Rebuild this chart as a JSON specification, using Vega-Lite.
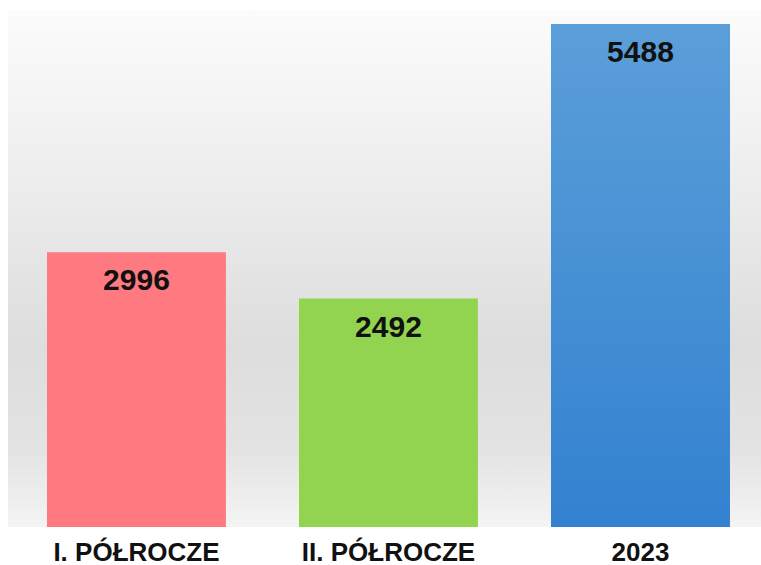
{
  "$schema": "https://vega.github.io/schema/vega-lite/v6.json",
  "width": 753,
  "height": 517,
  "autosize": {"type": "none"},
  "padding": {"top": 10, "left": 8, "right": 0, "bottom": 38},
  "background": "white",
  "config": {
    "view": {
      "stroke": null,
      "fill": {"gradient": "linear", "x1": 0, "y1": 0, "x2": 0, "y2": 1,
        "stops": [
          {"offset": 0, "color": "#fcfcfc"},
          {"offset": 0.35, "color": "#ececec"},
          {"offset": 0.65, "color": "#dddddd"},
          {"offset": 0.85, "color": "#e3e3e3"},
          {"offset": 1, "color": "#f4f4f4"}
        ]}
    }
  },
  "data": {
    "values": [
      {"okres": "I. PÓŁROCZE", "liczba": 2996},
      {"okres": "II. PÓŁROCZE", "liczba": 2492},
      {"okres": "2023", "liczba": 5488}
    ]
  },
  "encoding": {
    "x": {
      "field": "okres", "type": "nominal", "sort": null,
      "scale": {"paddingInner": 0.29, "paddingOuter": 0.13905, "align": 0.5565},
      "axis": {
        "title": null, "domain": false, "ticks": false, "labelAngle": 0,
        "labelFont": "Liberation Sans", "labelFontWeight": "bold", "labelFontSize": 26,
        "labelColor": "#111111", "labelPadding": 12, "labelBaseline": "top",
        "labelLimit": 400
      }
    },
    "y": {
      "field": "liczba", "type": "quantitative",
      "scale": {"domain": [0, 5640], "nice": false},
      "axis": null
    }
  },
  "layer": [
    {
      "mark": {"type": "bar"},
      "encoding": {
        "color": {
          "field": "okres", "type": "nominal", "legend": null,
          "scale": {"domain": ["I. PÓŁROCZE", "II. PÓŁROCZE", "2023"], "range": ["#ff7a80", "#92d34f", "#4a90d4"]}
        }
      }
    },
    {
      "transform": [{"filter": "datum.okres === '2023'"}],
      "mark": {
        "type": "bar",
        "color": {"gradient": "linear", "x1": 0, "y1": 0, "x2": 0, "y2": 1,
          "stops": [
            {"offset": 0, "color": "#5b9fd9"},
            {"offset": 1, "color": "#3381d0"}
          ]}
      }
    },
    {
      "mark": {
        "type": "text", "baseline": "middle", "dy": 29,
        "font": "Liberation Sans", "fontWeight": "bold", "fontSize": 30, "color": "#111111"
      },
      "encoding": {"text": {"field": "liczba", "type": "quantitative"}}
    }
  ]
}
